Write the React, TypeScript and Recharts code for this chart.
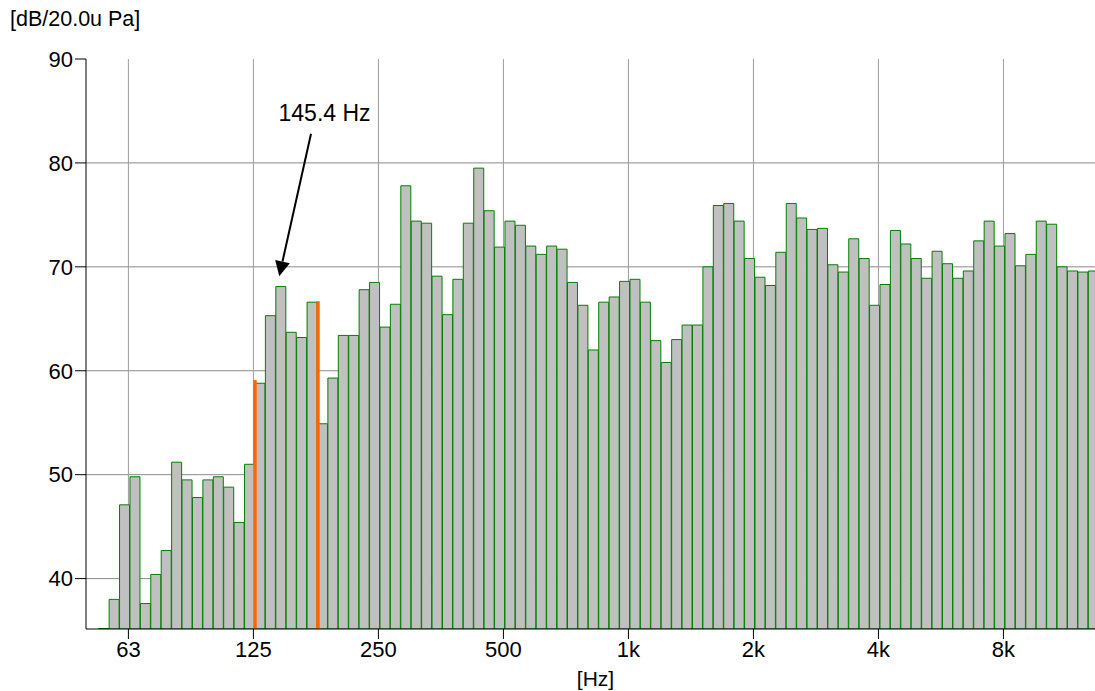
import React from "react";
import {
  BarChart,
  Bar,
  XAxis,
  YAxis,
  CartesianGrid,
  ReferenceLine,
  ReferenceDot,
} from "recharts";

// 1/12-octave band levels, left to right (dB re 20 uPa)
const BAND_LEVELS = [
  35.2, 38.0, 47.1, 49.8, 37.6, 40.4, 42.7, 51.2, 49.5, 47.8, 49.5, 49.8,
  48.8, 45.4, 51.0, 58.8, 65.3, 68.1, 63.7, 63.2, 66.6, 54.9, 59.3, 63.4,
  63.4, 67.8, 68.5, 64.2, 66.4, 77.8, 74.4, 74.2, 69.1, 65.4, 68.8, 74.2,
  79.5, 75.4, 71.9, 74.4, 74.0, 72.0, 71.2, 72.0, 71.7, 68.5, 66.3, 62.0,
  66.6, 67.1, 68.6, 68.8, 66.6, 62.9, 60.8, 63.0, 64.4, 64.4, 70.0, 75.9,
  76.1, 74.4, 70.8, 69.0, 68.2, 71.4, 76.1, 74.7, 73.6, 73.7, 70.2, 69.5,
  72.7, 70.8, 66.3, 68.3, 73.5, 72.2, 70.8, 68.9, 71.5, 70.3, 68.9, 69.6,
  72.5, 74.4, 72.0, 73.2, 70.1, 71.2, 74.4, 74.1, 70.0, 69.6, 69.5, 69.6,
];

// frequency axis, in band units
const FREQ_LABELS = ["63", "125", "250", "500", "1k", "2k", "4k", "8k"];
const FREQ_TICK_POS = [2.85, 14.85, 26.85, 38.85, 50.85, 62.85, 74.85, 86.85];
const FREQ_DOMAIN = [-1.22, 95.64];

const LEVEL_TICKS = [40, 50, 60, 70, 80, 90];
const GRID_LEVELS = [40, 50, 60, 70, 80];
const LEVEL_DOMAIN = [35.15, 90];

// orange cursor lines (band edge, level at top)
const CURSOR_POS = [15, 21.05];
const CURSOR_TOP = [59.1, 66.7];

// annotation arrow
const MARKER_TEXT = "145.4 Hz";
const MARKER_TEXT_AT = { pos: 21.68, level: 84.8 };
const ARROW_FROM = { pos: 20.38, level: 82.8 };
const ARROW_TO = { pos: 17.33, level: 69.1 };

const bands = BAND_LEVELS.map((level, i) => ({ pos: i + 0.5, level }));

const FONT = "'Liberation Sans', Arial, Helvetica, sans-serif";

const ArrowShape = (props: any) => {
  const { x1, y1, x2, y2 } = props;
  const ang = Math.atan2(y2 - y1, x2 - x1);
  const len = 15;
  const half = 7.5;
  const bx = x2 - len * Math.cos(ang);
  const by = y2 - len * Math.sin(ang);
  const px = -Math.sin(ang) * half;
  const py = Math.cos(ang) * half;
  return (
    <g>
      <line x1={x1} y1={y1} x2={bx} y2={by} stroke="#000" strokeWidth={2} />
      <polygon
        points={`${x2},${y2} ${bx + px},${by + py} ${bx - px},${by - py}`}
        fill="#000"
      />
    </g>
  );
};

export default function App() {
  return (
    <div
      style={{
        position: "fixed",
        left: 8,
        top: 8,
        width: 1087,
        height: 683,
        overflow: "hidden",
        background: "#fff",
        fontFamily: FONT,
      }}
    >
      <div
        style={{
          position: "absolute",
          left: 2,
          top: 1,
          fontSize: 21.5,
          lineHeight: "21px",
          color: "#000",
        }}
      >
        [dB/20.0u Pa]
      </div>
      <BarChart
        width={1087}
        height={683}
        data={bands}
        margin={{ top: 51, right: 0, bottom: 0, left: 0 }}
        barCategoryGap={0}
        barGap={0}
        style={{ fontFamily: FONT }}
      >
        <CartesianGrid
          vertical={false}
          horizontalValues={GRID_LEVELS}
          stroke="#8a8a8a"
        />
        <CartesianGrid
          horizontal={false}
          verticalValues={FREQ_TICK_POS}
          stroke="#9c9c9c"
        />
        <XAxis
          type="number"
          dataKey="pos"
          domain={FREQ_DOMAIN}
          allowDataOverflow
          ticks={FREQ_TICK_POS}
          interval={0}
          tickFormatter={(v, i) => FREQ_LABELS[i]}
          tickSize={10}
          tick={{ fill: "#000", fontSize: 22 }}
          axisLine={{ stroke: "#000" }}
          tickLine={{ stroke: "#000" }}
          height={62}
          label={{
            value: "[Hz]",
            position: "insideBottom",
            offset: 5,
            dx: 5,
            fill: "#000",
            fontSize: 21,
          }}
        />
        <YAxis
          type="number"
          domain={LEVEL_DOMAIN}
          allowDataOverflow
          ticks={LEVEL_TICKS}
          interval={0}
          tickSize={11}
          tick={{ fill: "#000", fontSize: 22 }}
          axisLine={{ stroke: "#000" }}
          tickLine={{ stroke: "#000" }}
          width={78}
        />
        <Bar
          dataKey="level"
          fill="#c0c0c0"
          stroke="#008000"
          strokeWidth={1}
          isAnimationActive={false}
        />
        {CURSOR_POS.map((p, i) => (
          <ReferenceLine
            key={i}
            segment={[
              { x: p, y: LEVEL_DOMAIN[0] },
              { x: p, y: CURSOR_TOP[i] },
            ]}
            stroke="#ff6600"
            strokeWidth={3.5}
          />
        ))}
        <ReferenceLine
          segment={[
            { x: ARROW_FROM.pos, y: ARROW_FROM.level },
            { x: ARROW_TO.pos, y: ARROW_TO.level },
          ]}
          shape={ArrowShape}
        />
        <ReferenceDot
          x={MARKER_TEXT_AT.pos}
          y={MARKER_TEXT_AT.level}
          r={0}
          fill="none"
          stroke="none"
          label={{
            value: MARKER_TEXT,
            position: "center",
            fill: "#000",
            fontSize: 23,
          }}
        />
      </BarChart>
    </div>
  );
}
